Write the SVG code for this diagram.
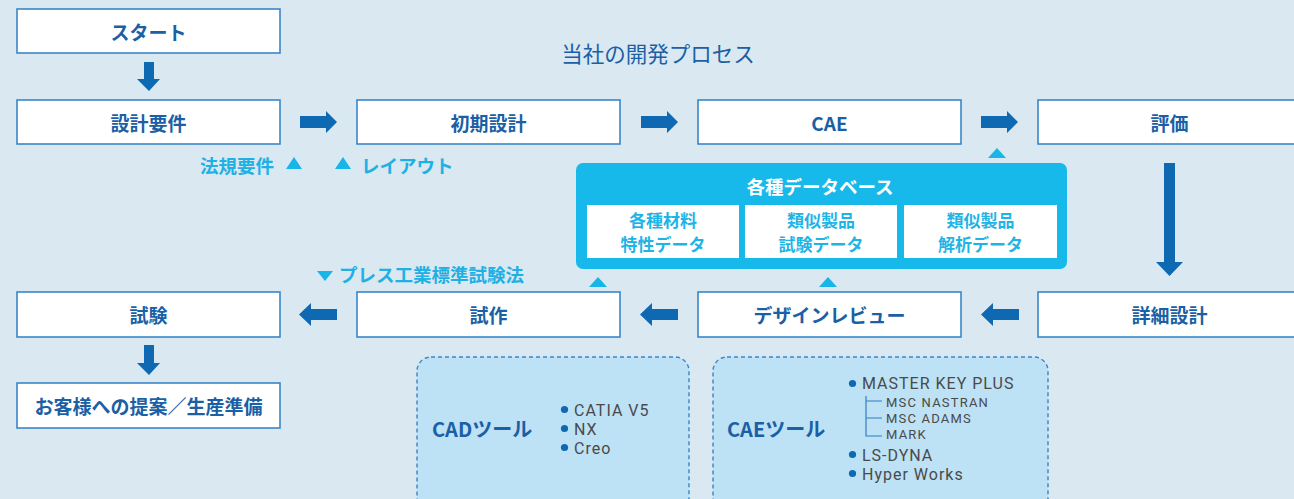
<svg xmlns="http://www.w3.org/2000/svg" width="1294" height="499" viewBox="0 0 1294 499">
<defs>
<style>
.bg{fill:#d9e8f1}
.box{fill:#ffffff;stroke:#3a86c8;stroke-width:1.6}
.bt{font-family:"Noto Sans CJK JP","Noto Sans",sans-serif;font-size:19px;font-weight:bold;fill:#1b5fa5;text-anchor:middle;dominant-baseline:central}
.arr{fill:#0e68b2}
.tri{fill:#17b5e8}
.note{font-family:"Noto Sans CJK JP","Noto Sans",sans-serif;font-size:18.5px;font-weight:bold;fill:#21b0e4;dominant-baseline:central}
.db{fill:#17b8ea}
.dbt{font-family:"Noto Sans CJK JP",sans-serif;font-size:18.5px;font-weight:bold;fill:#ffffff;text-anchor:middle;dominant-baseline:central}
.dbi{font-family:"Noto Sans CJK JP",sans-serif;font-size:17px;font-weight:bold;fill:#1fb4e6;text-anchor:middle;dominant-baseline:central}
.tool{fill:#bde1f5;stroke:#3a86c8;stroke-width:1.4;stroke-dasharray:4 3}
.tt{font-family:"Noto Sans CJK JP",sans-serif;font-size:20px;font-weight:bold;fill:#1b5fa5;dominant-baseline:central}
.li{font-family:"Roboto","DejaVu Sans",sans-serif;font-size:16px;letter-spacing:1px;fill:#4a4a4a;dominant-baseline:central}
.ls{font-family:"Roboto","DejaVu Sans",sans-serif;font-size:13px;letter-spacing:1.2px;fill:#4a4a4a;dominant-baseline:central}
.dot{fill:#0e68b2}
</style>
</defs>
<rect class="bg" x="0" y="0" width="1294" height="499"/>

<text x="658" y="52" font-family="'Noto Sans CJK JP',sans-serif" font-size="21.5" fill="#1b5fa5" text-anchor="middle" dominant-baseline="central">当社の開発プロセス</text>

<g id="connectors">
<polygon class="arr" points="144,62 154,62 154,79 160,79 149,91 137,79 144,79"/>
<polygon class="arr" points="144,345 154,345 154,363 160,363 149,375 137,363 144,363"/>
<polygon class="arr" points="300,116 326,116 326,111 337,122 326,133 326,128 300,128"/>
<polygon class="arr" points="641,116 667,116 667,111 678,122 667,133 667,128 641,128"/>
<polygon class="arr" points="981,116 1007,116 1007,111 1018,122 1007,133 1007,128 981,128"/>
<polygon class="arr" points="1164,163 1175,163 1175,262 1183,262 1169.5,276 1156,262 1164,262"/>
<polygon class="arr" points="1019,309 993,309 993,303 981,314.5 993,326 993,320 1019,320"/>
<polygon class="arr" points="678,309 652,309 652,303 640,314.5 652,326 652,320 678,320"/>
<polygon class="arr" points="337,309 311,309 311,303 299,314.5 311,326 311,320 337,320"/>
<polygon class="tri" points="997,148 1006,158 988,158"/>
<polygon class="tri" points="598,277 607,287 589,287"/>
<polygon class="tri" points="828,277 837,287 819,287"/>
</g>

<g id="n-start"><rect class="box" x="17" y="9" width="263" height="44"/><text class="bt" x="148.5" y="31">スタート</text></g>
<g id="n-req"><rect class="box" x="17" y="100" width="263" height="44"/><text class="bt" x="148.5" y="122">設計要件</text></g>
<g id="n-init"><rect class="box" x="357" y="100" width="263" height="44"/><text class="bt" x="488.5" y="122">初期設計</text></g>
<g id="n-cae"><rect class="box" x="698" y="100" width="263" height="44"/><text class="bt" x="829.5" y="122">CAE</text></g>
<g id="n-eval"><rect class="box" x="1038" y="100" width="263" height="44"/><text class="bt" x="1169.5" y="122">評価</text></g>
<g id="n-detail"><rect class="box" x="1038" y="292" width="263" height="45"/><text class="bt" x="1169.5" y="314.5">詳細設計</text></g>
<g id="n-review"><rect class="box" x="698" y="292" width="263" height="45"/><text class="bt" x="829.5" y="314.5">デザインレビュー</text></g>
<g id="n-proto"><rect class="box" x="357" y="292" width="263" height="45"/><text class="bt" x="488.5" y="314.5">試作</text></g>
<g id="n-test"><rect class="box" x="17" y="292" width="263" height="45"/><text class="bt" x="148.5" y="314.5">試験</text></g>
<g id="n-propose"><rect class="box" x="17" y="383" width="263" height="45"/><text class="bt" x="148.5" y="405.5">お客様への提案／生産準備</text></g>

<g id="notes">
<text class="note" x="200" y="165">法規要件</text>
<polygon class="tri" points="294,157 302,169 286,169"/>
<polygon class="tri" points="343,157 351,169 335,169"/>
<text class="note" x="361" y="165">レイアウト</text>
<polygon class="tri" points="317,271 333,271 325,281"/>
<text class="note" x="339" y="274">プレス工業標準試験法</text>
</g>

<g id="n-db">
<rect class="db" x="576" y="163" width="491" height="106" rx="7"/>
<text class="dbt" x="820" y="186">各種データベース</text>
<rect x="587" y="205" width="152" height="53" fill="#fff"/>
<rect x="745" y="205" width="152" height="53" fill="#fff"/>
<rect x="904" y="205" width="153" height="53" fill="#fff"/>
<text class="dbi" x="663" y="219">各種材料</text>
<text class="dbi" x="663" y="243">特性データ</text>
<text class="dbi" x="821" y="219">類似製品</text>
<text class="dbi" x="821" y="243">試験データ</text>
<text class="dbi" x="980.5" y="219">類似製品</text>
<text class="dbi" x="980.5" y="243">解析データ</text>
</g>

<g id="n-cad">
<rect class="tool" x="417" y="357" width="272" height="160" rx="14"/>
<text class="tt" x="432" y="428">CADツール</text>
<circle class="dot" cx="564.5" cy="409.5" r="3.6"/>
<circle class="dot" cx="564.5" cy="428.5" r="3.6"/>
<circle class="dot" cx="564.5" cy="447.5" r="3.6"/>
<text class="li" x="574" y="410">CATIA V5</text>
<text class="li" x="574" y="429">NX</text>
<text class="li" x="574" y="448">Creo</text>
</g>

<g id="n-caetool">
<rect class="tool" x="713" y="357" width="335" height="160" rx="14"/>
<text class="tt" x="727" y="428">CAEツール</text>
<circle class="dot" cx="852.5" cy="383.5" r="3.6"/>
<text class="li" x="862" y="383">MASTER KEY PLUS</text>
<path d="M866 396 V436 H882 M866 401 H882 M866 418 H882" fill="none" stroke="#2f7fc4" stroke-width="1.2"/>
<text class="ls" x="886" y="402">MSC NASTRAN</text>
<text class="ls" x="886" y="418">MSC ADAMS</text>
<text class="ls" x="886" y="434">MARK</text>
<circle class="dot" cx="852.5" cy="454.5" r="3.6"/>
<text class="li" x="862" y="455">LS-DYNA</text>
<circle class="dot" cx="852.5" cy="473.5" r="3.6"/>
<text class="li" x="862" y="474">Hyper Works</text>
</g>
</svg>
